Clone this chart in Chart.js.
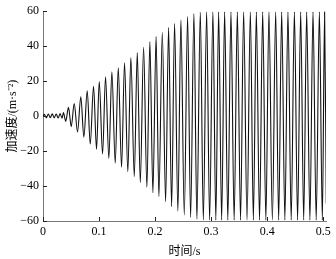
<!DOCTYPE html>
<html>
<head>
<meta charset="utf-8">
<script src="https://cdn.jsdelivr.net/npm/chart.js@4/dist/chart.umd.min.js"></script>
<style>
  html, body { margin: 0; padding: 0; background: #fff; }
  #wrap { width: 336px; height: 259px; }
</style>
</head>
<body>
<div id="wrap"><canvas id="accelChart"></canvas></div>
<script>
// peaks and troughs of the acceleration trace
const extremaTime = [
  0, 0.0025, 0.006, 0.0095, 0.013, 0.0165, 0.020, 0.0235, 0.027, 0.0305,
  0.034, 0.0365, 0.0405, 0.0455, 0.0504, 0.0557, 0.0616, 0.0675, 0.0729, 0.0789,
  0.0843, 0.0902, 0.0955, 0.1004, 0.1063, 0.1116, 0.1175, 0.1229, 0.1289, 0.1343,
  0.1402, 0.1455, 0.1514, 0.1568, 0.1629, 0.1682, 0.1736, 0.1795, 0.1854, 0.1907,
  0.1961, 0.2018, 0.2068, 0.2129, 0.2188, 0.2241, 0.2295, 0.2348, 0.2407, 0.2461,
  0.2521, 0.2580, 0.2634, 0.2693, 0.2746, 0.2807, 0.2861, 0.2920, 0.2973, 0.3032,
  0.3084, 0.3134, 0.3188, 0.3241, 0.3298, 0.3354, 0.3411, 0.3468, 0.3525, 0.3580,
  0.3641, 0.3700, 0.3754, 0.3807, 0.3864, 0.3920, 0.3977, 0.4032, 0.4093, 0.4152,
  0.4205, 0.4259, 0.4316, 0.4371, 0.4429, 0.4486, 0.4543, 0.4598, 0.4652, 0.4705,
  0.4763, 0.4818, 0.4875, 0.4932, 0.4985, 0.5025, 0.5055
];
const extremaAccel = [
  0, 1.0, -1.0, 1.2, -0.9, 1.3, -1.0, 1.2, -1.1, 1.4,
  -1.2, 2.0, -3.0, 5.0, -6.0, 7.2, -9.0, 11.0, -12.0, 14.5,
  -16.0, 17.0, -19.0, 19.8, -21.7, 22.5, -24.2, 25.3, -27.0, 27.6,
  -29.2, 30.5, -31.8, 33.5, -34.7, 36.4, -38.0, 39.4, -40.7, 42.5,
  -43.8, 45.5, -46.0, 47.8, -49.0, 50.7, -51.8, 53.0, -54.3, 54.9,
  -56.6, 57.0, -57.9, 58.7, -59.0, 59.5, -59.4, 59.6, -59.5, 59.6,
  -59.5, 59.6, -59.5, 59.6, -59.5, 59.6, -59.5, 59.6, -59.5, 59.6,
  -59.5, 59.6, -59.5, 59.6, -59.5, 59.6, -59.5, 59.6, -59.5, 59.6,
  -59.5, 59.6, -59.5, 59.6, -59.5, 59.6, -59.5, 59.6, -59.5, 59.6,
  -59.5, 59.6, -59.5, 59.6, -59.5, 59.6, -50.0
];
const xTicks = [0, 0.1, 0.2, 0.3, 0.4, 0.5];
const yTicks = [-60, -40, -20, 0, 20, 40, 60];

const numFont = { family: "'Liberation Serif', 'Noto Sans CJK SC', serif", size: 12 };
const axisGray = "#7a7a7a";

// small tick marks pointing into the plot
const innerTicks = {
  id: "innerTicks",
  afterDraw(chart) {
    const { ctx, chartArea, scales } = chart;
    ctx.save();
    ctx.strokeStyle = "#222";
    ctx.lineWidth = 1;
    ctx.beginPath();
    xTicks.forEach((v) => {
      const px = Math.round(scales.x.getPixelForValue(v)) + 0.5;
      ctx.moveTo(px, chartArea.bottom);
      ctx.lineTo(px, chartArea.bottom - 4);
    });
    yTicks.forEach((v) => {
      const py = Math.round(scales.y.getPixelForValue(v)) + 0.5;
      ctx.moveTo(chartArea.left, py);
      ctx.lineTo(chartArea.left + 4, py);
    });
    ctx.stroke();
    ctx.restore();
  },
};

new Chart(document.getElementById("accelChart"), {
  type: "line",
  data: {
    datasets: [
      {
        data: extremaTime.map((t, i) => ({ x: t, y: extremaAccel[i] })),
        borderColor: "#111",
        borderWidth: 1.1,
        pointRadius: 0,
        cubicInterpolationMode: "monotone",
        fill: false,
      },
    ],
  },
  options: {
    responsive: true,
    maintainAspectRatio: false,
    animation: false,
    events: [],
    layout: { padding: { left: 0, right: 10, top: 11, bottom: 0 } },
    plugins: { legend: { display: false }, tooltip: { enabled: false } },
    scales: {
      x: {
        type: "linear",
        min: 0,
        max: 0.505,
        afterBuildTicks: (scale) => {
          scale.ticks = xTicks.map((v) => ({ value: v }));
        },
        afterFit: (scale) => { scale.height = 38; },
        grid: { display: true, drawOnChartArea: false, drawTicks: false },
        border: { display: true, color: axisGray, width: 1 },
        ticks: {
          color: "#000",
          font: numFont,
          padding: 4,
          maxRotation: 0,
          callback: (v) => String(v),
        },
        title: {
          display: true,
          text: "时间/s",
          color: "#000",
          font: { family: "'Liberation Serif', 'Noto Sans CJK SC', serif", size: 12 },
          padding: { top: 0, bottom: 0 },
        },
      },
      y: {
        min: -60,
        max: 60,
        afterBuildTicks: (scale) => {
          scale.ticks = yTicks.map((v) => ({ value: v }));
        },
        afterFit: (scale) => { scale.width = 43; },
        grid: { display: true, drawOnChartArea: false, drawTicks: false },
        border: { display: true, color: axisGray, width: 1 },
        ticks: {
          color: "#000",
          font: numFont,
          padding: 4,
          callback: (v) => (v < 0 ? "\u2212" + Math.abs(v) : String(v)),
        },
        title: {
          display: true,
          text: "加速度/(m·s\u207B\u00B2)",
          color: "#000",
          font: { family: "'Liberation Serif', 'Noto Sans CJK SC', serif", size: 12 },
          padding: { top: 6, bottom: 0 },
        },
      },
    },
  },
  plugins: [innerTicks],
});
</script>
</body>
</html>
